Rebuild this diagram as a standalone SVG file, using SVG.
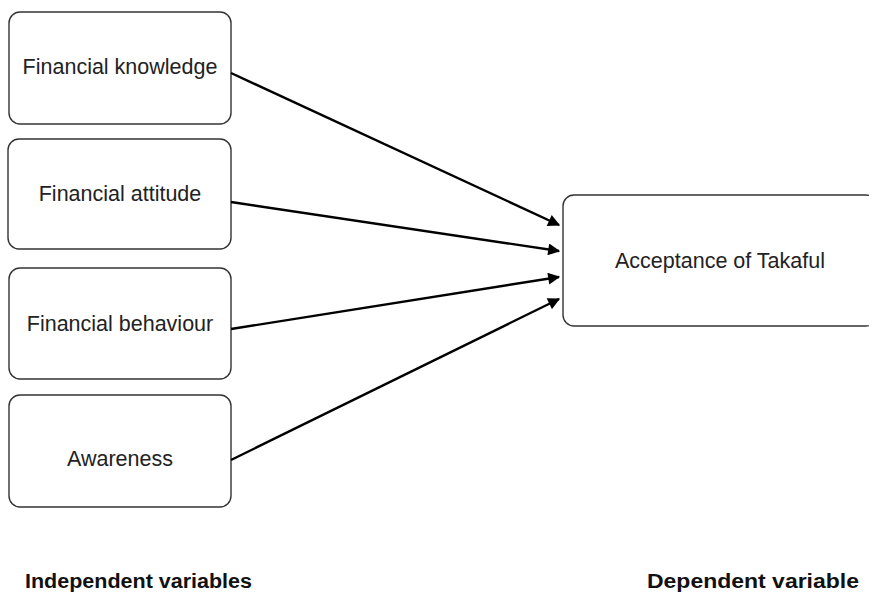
<svg xmlns="http://www.w3.org/2000/svg" width="869" height="595" viewBox="0 0 869 595">
<style>
.box{fill:#fff;stroke:#333;stroke-width:1.4}
.lbl{font-family:"Liberation Sans",Arial,sans-serif;font-size:21.5px;fill:#222;text-anchor:middle}
.cap{font-family:"Liberation Sans",Arial,sans-serif;font-size:20px;font-weight:bold;fill:#111}
.conn{stroke:#000;stroke-width:2.4;fill:none}
</style>
<defs>
<marker id="ah" viewBox="0 0 10 10" refX="9" refY="5" markerWidth="5.5" markerHeight="5" orient="auto" markerUnits="strokeWidth">
<path d="M0,0 L10,5 L0,10 z" fill="#000"/>
</marker>
</defs>
<rect width="869" height="595" fill="#fff"/>
<g id="n1"><rect class="box" x="9" y="12" width="222" height="112" rx="11"/><text class="lbl" x="120" y="74">Financial knowledge</text></g>
<g id="n2"><rect class="box" x="8" y="139" width="223" height="110" rx="11"/><text class="lbl" x="120" y="201">Financial attitude</text></g>
<g id="n3"><rect class="box" x="9" y="268" width="222" height="111" rx="11"/><text class="lbl" x="120" y="331">Financial behaviour</text></g>
<g id="n4"><rect class="box" x="9" y="395" width="222" height="112" rx="11"/><text class="lbl" x="120" y="466">Awareness</text></g>
<g id="n5"><rect class="box" x="563" y="195" width="314" height="131" rx="11"/><text class="lbl" x="720" y="268">Acceptance of Takaful</text></g>
<g id="connectors">
<line class="conn" x1="231" y1="73" x2="559" y2="225" marker-end="url(#ah)"/>
<line class="conn" x1="231" y1="202" x2="559" y2="251" marker-end="url(#ah)"/>
<line class="conn" x1="231" y1="329" x2="559" y2="277" marker-end="url(#ah)"/>
<line class="conn" x1="231" y1="460" x2="559" y2="299" marker-end="url(#ah)"/>
</g>
<text class="cap" x="25" y="588" textLength="227" lengthAdjust="spacingAndGlyphs">Independent variables</text>
<text class="cap" x="647" y="588" textLength="212" lengthAdjust="spacingAndGlyphs">Dependent variable</text>
</svg>
